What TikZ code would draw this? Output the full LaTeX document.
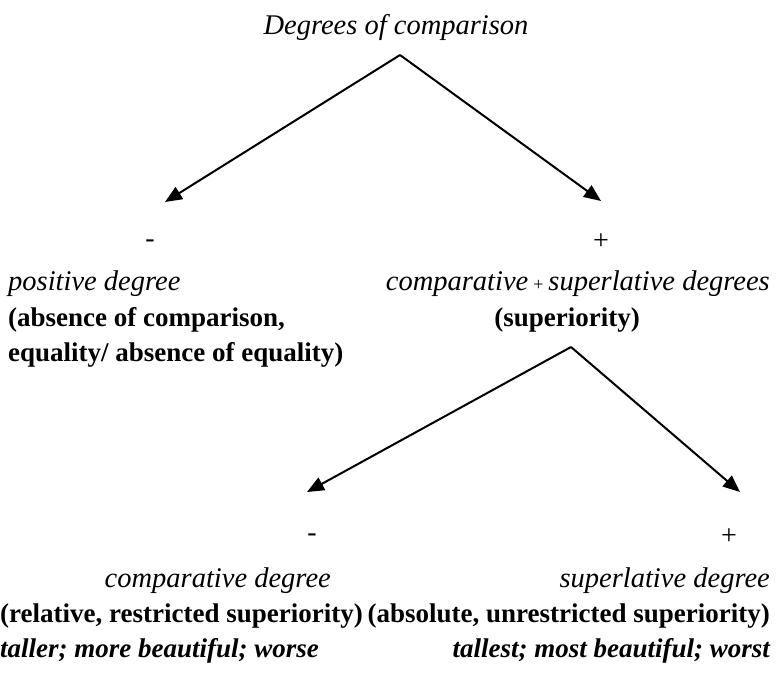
\documentclass[tikz,border=0pt]{standalone}
\usepackage{fontspec}
\setmainfont{Liberation Serif}
\usetikzlibrary{arrows.meta}
\begin{document}
\begin{tikzpicture}[x=1pt,y=-1pt,
  it/.style={font=\fontsize{28.5}{32}\selectfont\itshape, inner sep=0pt},
  bf/.style={font=\fontsize{27}{32}\selectfont\bfseries, inner sep=0pt},
  bi/.style={font=\fontsize{27}{32}\selectfont\bfseries\itshape, inner sep=0pt},
  sg/.style={font=\fontsize{28}{32}\selectfont, inner sep=0pt},
  arr/.style={line width=2pt, -{Triangle[length=17pt,width=14pt]}}]
\useasboundingbox (0,0) rectangle (778,672);
% top
\node[it, anchor=base] (title) at (396,34) {Degrees of comparison};
\coordinate (a1) at (400,55);
\coordinate (l1) at (165,202);
\coordinate (r1) at (601,201);
\draw[arr] (a1) -- (l1);
\draw[arr] (a1) -- (r1);
\node[sg, anchor=base] (m1) at (150,247) {-};
\node[sg, anchor=base] (p1) at (601,249) {+};
% left branch
\node[it, anchor=base west] (pos) at (8,290) {positive degree};
\node[bf, anchor=base west] (pos2) at (8,326) {(absence of comparison,};
\node[bf, anchor=base west] (pos3) at (8,361) {equality/ absence of equality)};
% right branch
\node[anchor=base east, inner sep=0pt] (cs) at (770,290) {{\fontsize{28.5}{32}\selectfont\itshape comparative}\hspace{5pt}{\fontsize{18}{20}\selectfont +}\hspace{5pt}{\fontsize{28.5}{32}\selectfont\itshape superlative degrees}};
\node[bf, anchor=base] (sup) at (567,326) {(superiority)};
\coordinate (a2) at (571,347);
\coordinate (l2) at (307,492);
\coordinate (r2) at (740,492);
\draw[arr] (a2) -- (l2);
\draw[arr] (a2) -- (r2);
\node[sg, anchor=base] (m2) at (312,541) {-};
\node[sg, anchor=base] (p2) at (729,544) {+};
% bottom left
\node[it, anchor=base east] (cd) at (331,587) {comparative degree};
\node[bf, anchor=base west] (cd2) at (0,622) {(relative, restricted superiority)};
\node[bi, anchor=base west] (cd3) at (0,657) {taller; more beautiful; worse};
% bottom right
\node[it, anchor=base east] (sd) at (770,587) {superlative degree};
\node[bf, anchor=base east] (sd2) at (770,622) {(absolute, unrestricted superiority)};
\node[bi, anchor=base east] (sd3) at (770,657) {tallest; most beautiful; worst};
\end{tikzpicture}
\end{document}
